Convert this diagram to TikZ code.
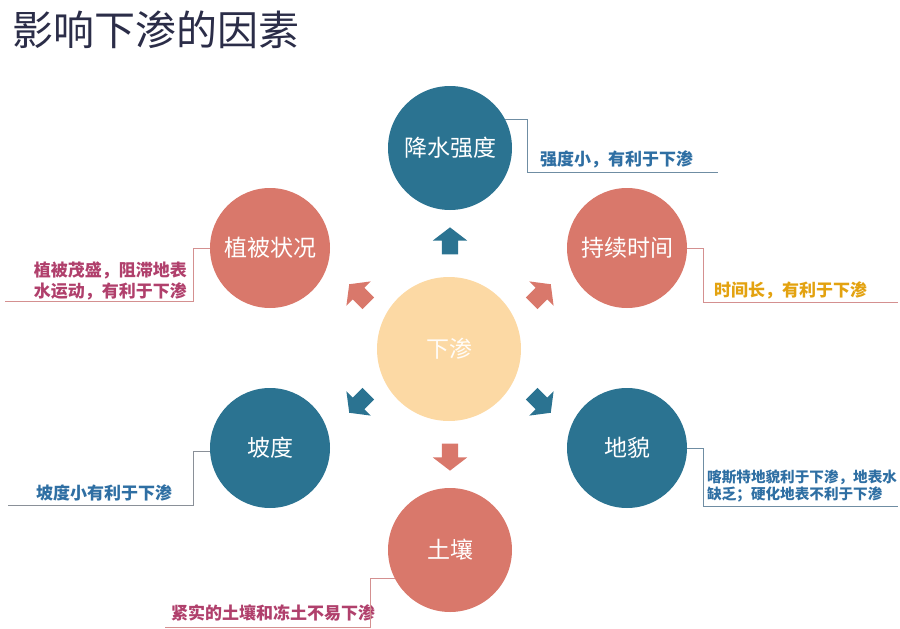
\documentclass[tikz,border=0pt]{standalone}
\usepackage{fontspec}
\setmainfont{Noto Sans CJK SC}
\usetikzlibrary{shapes.arrows}

\definecolor{deepblue}{HTML}{2B7391}
\definecolor{salmon}{HTML}{D9786B}
\definecolor{cream}{HTML}{FCD9A4}
\definecolor{titleink}{HTML}{2B2D48}
\definecolor{noteblue}{HTML}{2F6FA3}
\definecolor{notered}{HTML}{B0406C}
\definecolor{notegold}{HTML}{E3A210}
\definecolor{lineblue}{HTML}{6F8DA3}
\definecolor{linered}{HTML}{D49090}
\definecolor{linegray}{HTML}{8A9098}

\tikzset{
  bigdot/.style={circle, fill=#1, minimum size=120pt, inner sep=0pt,
    text=white, font=\fontsize{23}{23}\selectfont},
  blockarrow/.style={single arrow, fill=#1, inner xsep=0pt, inner ysep=8pt,
    minimum height=27pt, single arrow head extend=9pt,
    single arrow tip angle=105},
  callout/.style={draw=#1, line width=0.8pt},
  note/.style={inner sep=0pt, font=\fontsize{17}{21}\bfseries\selectfont}
}

\begin{document}
\begin{tikzpicture}[x=1pt, y=-1pt]
    \useasboundingbox (0,0) rectangle (900,629);

    \node[anchor=west, text=titleink, font=\fontsize{41}{41}\selectfont] (title) at (9,30) {影响下渗的因素};

    % circles
    \node[bigdot=cream, minimum size=144pt, text=white!92!cream] (xs) at (449,349) {下渗};
    \node[bigdot=deepblue, minimum size=124pt] (jsqd) at (450,148) {降水强度};
    \node[bigdot=salmon] (zbzk) at (270,248) {植被状况};
    \node[bigdot=salmon] (cxsj) at (627,248) {持续时间};
    \node[bigdot=deepblue] (pd) at (270,448) {坡度};
    \node[bigdot=deepblue] (dm) at (627,448) {地貌};
    \node[bigdot=salmon, minimum size=124pt] (tr) at (450,550) {土壤};

    % arrows round the centre
    \node[blockarrow=deepblue, rotate=90] (a1) at (450,244) {};
    \node[blockarrow=salmon, rotate=135] (a2) at (361,296) {};
    \node[blockarrow=salmon, rotate=45] (a3) at (539,296) {};
    \node[blockarrow=deepblue, rotate=225] (a4) at (361,401) {};
    \node[blockarrow=deepblue, rotate=315] (a5) at (539,401) {};
    \node[blockarrow=salmon, rotate=270] (a6) at (450,454) {};

    % notes
    \node[note, text=noteblue, anchor=base west] (n1) at (540,165) {强度小，有利于下渗};
    \node[note, text=notered, anchor=east, align=right] (n2) at (187,281) {植被茂盛，阻滞地表\\水运动，有利于下渗};
    \node[note, text=notegold, anchor=base west] (n3) at (714,296) {时间长，有利于下渗};
    \node[note, text=noteblue, anchor=base west] (n4) at (36,499) {坡度小有利于下渗};
    \node[note, text=noteblue, anchor=west, align=left, font=\fontsize{14.6}{17}\bfseries\selectfont] (n5) at (707,486) {喀斯特地貌利于下渗，地表水\\缺乏；硬化地表不利于下渗};
    \node[note, text=notered, anchor=base west] (n6) at (171,619) {紧实的土壤和冻土不易下渗};

    % callout lines
    \coordinate (k1) at (527,172);
    \coordinate (e1) at (718,172);
    \draw[callout=lineblue] (jsqd.27) -- (jsqd.27 -| k1) -- (k1) -- (e1);
    \coordinate (k2) at (193,301);
    \coordinate (e2) at (5,301);
    \draw[callout=linered] (zbzk.west) -- (zbzk.west -| k2) -- (k2) -- (e2);
    \coordinate (k3) at (703,302);
    \coordinate (e3) at (898,302);
    \draw[callout=linered] (cxsj.east) -- (cxsj.east -| k3) -- (k3) -- (e3);
    \coordinate (k4) at (193,505);
    \coordinate (e4) at (8,505);
    \draw[callout=linegray] (pd.183) -- (pd.183 -| k4) -- (k4) -- (e4);
    \coordinate (k5) at (703,506);
    \coordinate (e5) at (898,506);
    \draw[callout=lineblue] (dm.east) -- (dm.east -| k5) -- (k5) -- (e5);
    \coordinate (k6) at (370,627);
    \coordinate (e6) at (165,627);
    \draw[callout=linered] (tr.207) -- (tr.207 -| k6) -- (k6) -- (e6);
\end{tikzpicture}
\end{document}
